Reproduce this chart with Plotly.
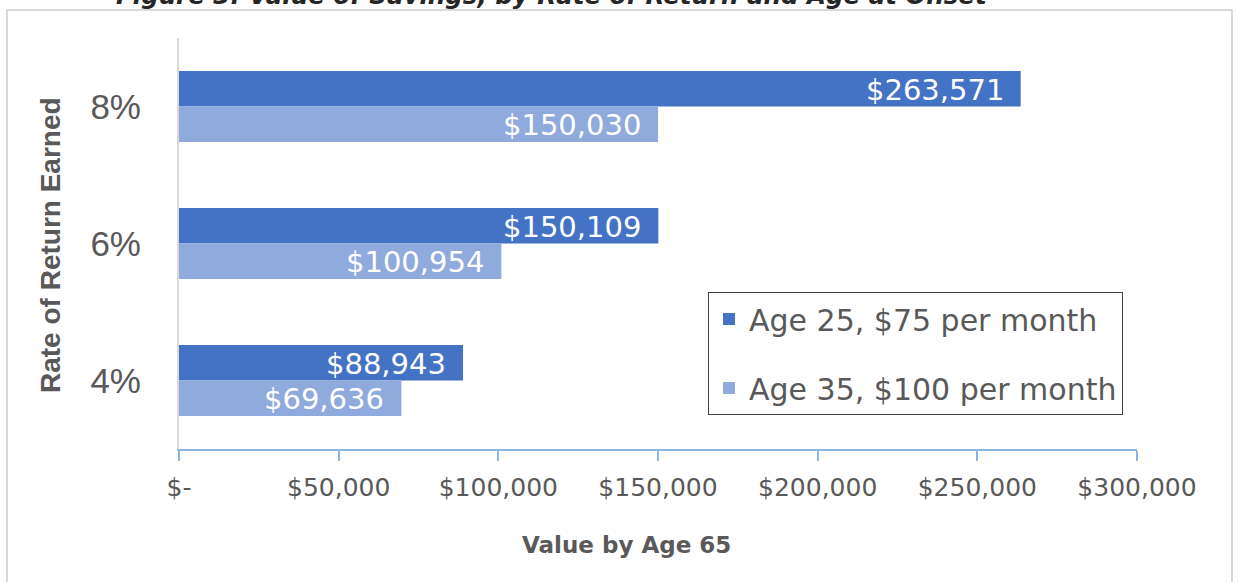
import plotly.graph_objects as go

categories = ["8%", "6%", "4%"]
series_names = ["Age 25, $75 per month", "Age 35, $100 per month"]
age25_values = [263571, 150109, 88943]
age35_values = [150030, 100954, 69636]
tick_values = [0, 50000, 100000, 150000, 200000, 250000, 300000]
tick_labels = ["$-", "$50,000", "$100,000", "$150,000", "$200,000", "$250,000", "$300,000"]
colors = ["#4472C4", "#8FAADC"]

W, H = 1238, 582
L, R, T, B = 179, 101, 38, 133
pw, ph = W - L - R, H - T - B

def px_x(p):
    return (p - L) / pw

def px_y(p):
    return (H - B - p) / ph

fig = go.Figure()
for name, vals, col, grp in zip(series_names, [age25_values, age35_values], colors, ["a", "b"]):
    fig.add_trace(go.Bar(
        y=categories, x=vals, name=name, orientation="h",
        marker=dict(color=col, line=dict(width=0)),
        legendgroup=grp, hoverinfo="x+name",
    ))

annotations = []
for vals, shift in [(age25_values, 17), (age35_values, -18)]:
    for c, v in zip(categories, vals):
        annotations.append(dict(
            x=v, y=c, xref="x", yref="y", text=f"${v:,.0f}", showarrow=False,
            xanchor="right", yanchor="middle", xshift=-15, yshift=shift,
            font=dict(family="DejaVu Sans", size=29, color="white"),
        ))

annotations.append(dict(
    x=px_x(626), y=px_y(545), xref="paper", yref="paper", text="<b>Value by Age 65</b>",
    showarrow=False, xanchor="center", yanchor="middle",
    font=dict(family="DejaVu Sans", size=23, color="#595959"),
))
annotations.append(dict(
    x=px_x(51), y=px_y(245), xref="paper", yref="paper", text="<b>Rate of Return Earned</b>",
    showarrow=False, xanchor="center", yanchor="middle", textangle=-90,
    font=dict(family="Liberation Sans", size=28, color="#595959"),
))
annotations.append(dict(
    x=px_x(552), y=px_y(-5), xref="paper", yref="paper",
    text="<b><i>Figure 3: Value of Savings, by Rate of Return and Age at Onset</i></b>",
    showarrow=False, xanchor="center", yanchor="middle",
    font=dict(family="DejaVu Sans", size=24.5, color="#262626"),
))

fig.update_layout(
    width=W, height=H,
    margin=dict(l=L, r=R, t=T, b=B, pad=0),
    paper_bgcolor="white", plot_bgcolor="white",
    barmode="group", bargap=0.482, bargroupgap=0,
    annotations=annotations,
    showlegend=True,
    legend=dict(
        x=px_x(708), y=px_y(292), xanchor="left", yanchor="top",
        bordercolor="#404040", borderwidth=1, bgcolor="white",
        font=dict(family="DejaVu Sans", size=30, color="#595959"),
        tracegroupgap=27, traceorder="grouped",
        entrywidth=390, entrywidthmode="pixels",
    ),
    shapes=[dict(
        type="rect", xref="paper", yref="paper",
        x0=px_x(7), x1=px_x(1232), y0=px_y(600), y1=px_y(10),
        line=dict(color="#d9d9d9", width=2), layer="below",
    )],
)

fig.update_xaxes(
    range=[0, 300000], tickvals=tick_values, ticktext=tick_labels,
    showgrid=False, zeroline=False, showline=True, linecolor="#8DB4E2", linewidth=1.5,
    ticks="outside", ticklen=10, tickcolor="#8DB4E2", tickwidth=1.5,
    tickfont=dict(family="DejaVu Sans", size=25, color="#595959"),
    ticklabelstandoff=5,
)
fig.update_yaxes(
    autorange="reversed", showgrid=False, zeroline=False,
    showline=True, linecolor="#d9d9d9", linewidth=2, ticks="",
    tickfont=dict(family="Liberation Sans", size=35, color="#595959"),
    ticklabelstandoff=29,
)

fig.write_html(
    "out.html",
    config={"displayModeBar": False},
    post_script="document.body.style.margin='0';document.body.style.overflow='hidden';",
)
